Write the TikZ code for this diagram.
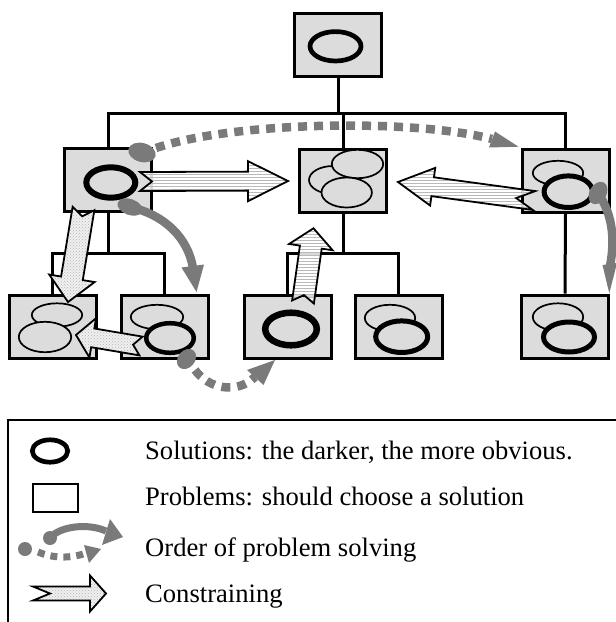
\documentclass[tikz,border=0pt]{standalone}
\usepackage{fontspec}
\setmainfont{Liberation Serif}
\usetikzlibrary{calc,patterns}
\definecolor{boxgray}{RGB}{220,220,220}
\definecolor{og}{RGB}{122,122,122}
\newcommand{\constrarrow}[7]{%
  \coordinate (ka) at #2; \coordinate (kb) at #3;
  \coordinate (kh) at ($(kb)!#6!(ka)$);
  \path[#1] ($(ka)!#4!90:(kb)$) -- ($(ka)!#7!(kb)$) -- ($(ka)!#4!-90:(kb)$)
    -- ($(kh)!#4!-90:(kb)$) -- ($(kh)!#5!-90:(kb)$) -- (kb)
    -- ($(kh)!#5!90:(kb)$) -- ($(kh)!#4!90:(kb)$) -- cycle;
}
\begin{document}
\begin{tikzpicture}[x=1pt,y=-1pt,
  box/.style={draw, line width=3pt, fill=boxgray, minimum width=87pt, minimum height=63pt, inner sep=0pt},
  tree/.style={line width=3pt, line join=miter},
  thin sol/.style={draw, line width=1.7pt, fill=boxgray},
  hatcharrow/.style={preaction={fill=white, fill opacity=0.85}, preaction={pattern=horizontal lines, pattern color=gray!55}, draw, line width=1.8pt, line join=miter},
  stiparrow/.style={preaction={fill=gray!12}, preaction={pattern=crosshatch dots, pattern color=gray!60}, draw, line width=1.8pt, line join=miter},
  dotord/.style={draw=og, line width=8.5pt, dash pattern=on 9pt off 7pt},
  solord/.style={draw=og, line width=8.5pt},
  legtext/.style={anchor=base west, inner sep=0pt, font=\fontsize{26.6}{30}\selectfont}
]
\useasboundingbox (0,0) rectangle (616,622);
% boxes
\node[box] (top) at (338,45) {};
\node[box] (L) at (108,180) {};
\node[box] (C) at (343,180.5) {};
\node[box] (R) at (565.5,181) {};
\node[box] (B1) at (52.5,326.5) {};
\node[box] (B2) at (164.5,326.5) {};
\node[box] (B3) at (287.5,326.5) {};
\node[box] (B4) at (398.5,326.5) {};
\node[box] (B5) at (565,326.5) {};
% tree connectors
\coordinate (bar1) at (0,113);
\coordinate (bar2) at (0,253);
\draw[tree] (top.south) -- (top.south |- bar1);
\draw[tree] (L.north) -- (L.north |- bar1) -- (R.north |- bar1) -- (R.north);
\draw[tree] (C.north |- bar1) -- (C.north);
\draw[tree] (L.south) -- (L.south |- bar2);
\draw[tree] (B1.north) -- (B1.north |- bar2) -- (B2.north |- bar2) -- (B2.north);
\draw[tree] (C.south) -- (C.south |- bar2);
\draw[tree] (B3.north) -- (B3.north |- bar2) -- (B4.north |- bar2) -- (B4.north);
\draw[tree] (R.south) -- (B5.north);
% redraw boxes above the connectors
\node[box] at (top) {};
\node[box] at (L) {};
\node[box] at (C) {};
\node[box] at (R) {};
\node[box] at (B1) {};
\node[box] at (B2) {};
\node[box] at (B3) {};
\node[box] at (B4) {};
\node[box] at (B5) {};
% solutions
\draw[line width=4.7pt, fill=boxgray] (335.5,46.3) ellipse [x radius=25.5pt, y radius=14.7pt];
\draw[line width=6pt, fill=boxgray] (110.8,182.5) ellipse [x radius=24.5pt, y radius=15.2pt];
\draw[thin sol] (333,180) ellipse [x radius=24pt, y radius=14pt];
\draw[thin sol] (357.5,164) ellipse [x radius=25.7pt, y radius=14.2pt];
\draw[thin sol] (346.7,192.5) ellipse [x radius=25.2pt, y radius=15pt];
\draw[thin sol] (558,173) ellipse [x radius=25.2pt, y radius=12.2pt];
\draw[line width=5pt, fill=boxgray] (568.3,191.7) ellipse [x radius=24.2pt, y radius=15.8pt];
\draw[thin sol] (57,315) ellipse [x radius=25.2pt, y radius=11.7pt];
\draw[thin sol] (45,337) ellipse [x radius=26.2pt, y radius=15.2pt];
\draw[thin sol] (157,317) ellipse [x radius=26.2pt, y radius=12.2pt];
\draw[line width=4.5pt, fill=boxgray] (170,338) ellipse [x radius=23.8pt, y radius=14.8pt];
\draw[line width=6.5pt, fill=boxgray] (291,329) ellipse [x radius=25.8pt, y radius=16.3pt];
\draw[thin sol] (390,318) ellipse [x radius=25.2pt, y radius=13.2pt];
\draw[line width=5pt, fill=boxgray] (401.7,336.7) ellipse [x radius=26pt, y radius=15.8pt];
\draw[thin sol] (558,317) ellipse [x radius=25.2pt, y radius=13.7pt];
\draw[line width=5pt, fill=boxgray] (569,337) ellipse [x radius=25.5pt, y radius=15pt];
% constraining arrows
\coordinate (lc-tail) at (140,181.5); \coordinate (lc-tip) at (288,181);
\constrarrow{hatcharrow}{(lc-tail)}{(lc-tip)}{9.5pt}{20pt}{40pt}{12pt}
\coordinate (rc-tail) at (534,200.5); \coordinate (rc-tip) at (398,182);
\constrarrow{hatcharrow}{(rc-tail)}{(rc-tip)}{9.5pt}{19pt}{35pt}{18pt}
\coordinate (bc-tail) at (303,302); \coordinate (bc-tip) at (313.5,228.3);
\constrarrow{hatcharrow}{(bc-tail)}{(bc-tip)}{11pt}{22pt}{19pt}{7pt}
\coordinate (lb-tail) at (83.5,208.5); \coordinate (lb-tip) at (68,302);
\constrarrow{stiparrow}{(lb-tail)}{(lb-tip)}{11pt}{23pt}{24pt}{8pt}
\coordinate (bb-tail) at (141,346); \coordinate (bb-tip) at (76,335);
\constrarrow{stiparrow}{(bb-tail)}{(bb-tip)}{9.5pt}{20pt}{17pt}{8pt}
% order of problem solving
\fill[og, rotate around={-15:(142,152.5)}] (142,152.5) ellipse [x radius=14pt, y radius=9.5pt];
\draw[dotord] (156,148) .. controls (232,122) and (410,118) .. (492,139);
\coordinate (o1-tip) at (518.5,146.7);
\fill[og] (495,131.5) -- (489,147.5) -- (o1-tip) -- cycle;
\fill[og, rotate around={-20:(130,207)}] (130,207) ellipse [x radius=13pt, y radius=8pt];
\draw[solord] (130,207) .. controls (165,215) and (188,238) .. (193,268);
\coordinate (o2-tip) at (196.5,292);
\fill[og] (181.5,267.5) -- (204,264.5) -- (o2-tip) -- cycle;
\fill[og, rotate around={60:(598,193)}] (598,193) ellipse [x radius=12pt, y radius=8.5pt];
\draw[solord] (598,193) .. controls (615,218) and (614,245) .. (610,266);
\coordinate (o3-tip) at (609.3,293.3);
\fill[og] (602.5,265) -- (617,263) -- (o3-tip) -- cycle;
\fill[og, rotate around={50:(186.5,359)}] (186.5,359) ellipse [x radius=11pt, y radius=8.5pt];
\draw[dotord] (195,370) .. controls (208,388) and (236,395) .. (255,377);
\coordinate (o4-tip) at (275,360);
\fill[og] (247,370) -- (263.5,385) -- (o4-tip) -- cycle;
% legend
\draw[line width=2pt] (616,420) -- (7.5,420) -- (7.5,622);
\draw[line width=4.7pt] (50,451) ellipse [x radius=17.7pt, y radius=11.2pt];
\node[draw, line width=2.3pt, minimum width=44.7pt, minimum height=27.7pt, inner sep=0pt] (lsq) at (55.5,498) {};
\fill[og] (50,538) circle [radius=7pt];
\draw[solord, line width=7pt] (50,538) .. controls (60,526) and (88,523) .. (106,531);
\coordinate (lo1-tip) at (123,537);
\fill[og] (110,519) -- (102,545) -- (lo1-tip) -- cycle;
\fill[og] (25,549) circle [radius=7pt];
\draw[dotord, line width=7pt, dash pattern=on 7pt off 6pt] (38,552) .. controls (52,558) and (70,559) .. (86,553);
\coordinate (lo2-tip) at (101,549);
\fill[og] (84,545) -- (89,563) -- (lo2-tip) -- cycle;
\coordinate (lc2-tail) at (33,593.5); \coordinate (lc2-tip) at (106,593.5);
\constrarrow{stiparrow}{(lc2-tail)}{(lc2-tip)}{7pt}{18pt}{16pt}{17pt}
\node[legtext] (t1) at (145,459) {Solutions: the darker, the more obvious.};
\node[legtext] (t2) at (145,505) {Problems: should choose a solution};
\node[legtext] (t3) at (145,556) {Order of problem solving};
\node[legtext] (t4) at (145,602) {Constraining};
\end{tikzpicture}
\end{document}
